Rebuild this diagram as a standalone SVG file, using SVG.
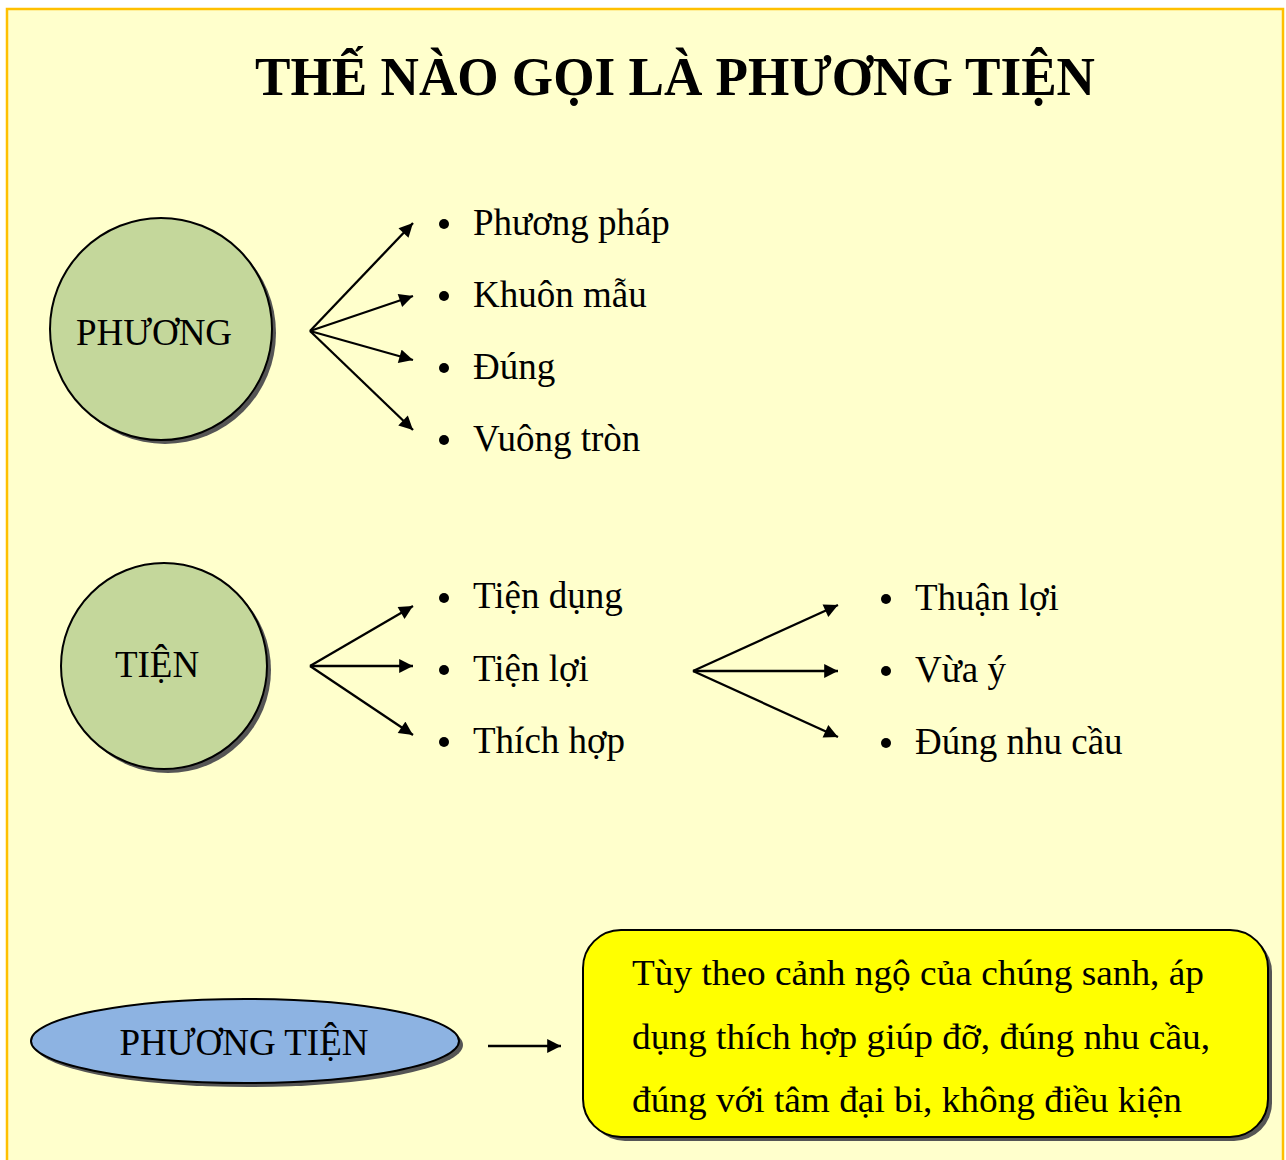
<svg xmlns="http://www.w3.org/2000/svg" width="1286" height="1160" viewBox="0 0 1286 1160">
<defs>
<marker id="ah" viewBox="0 0 10 10" refX="10" refY="5" markerWidth="6.5" markerHeight="6" orient="auto" markerUnits="strokeWidth">
<path d="M0,0 L10,5 L0,10 z" fill="#000"/>
</marker>
<style>
.t{font-family:"Liberation Serif","Times New Roman",serif;fill:#000}
.item{font-size:37px}
.lbl{font-size:37px;text-anchor:middle}
.con line{stroke:#000;stroke-width:2.3;marker-end:url(#ah)}
.shadow{fill:#555}
</style>
</defs>
<rect x="0" y="0" width="1286" height="1160" fill="#fff"/>
<rect x="7" y="9" width="1276" height="1160" fill="#FFFFCC" stroke="#FFC000" stroke-width="2.5"/>
<text class="t" x="675" y="95" font-size="54" font-weight="bold" text-anchor="middle" textLength="840" lengthAdjust="spacingAndGlyphs">THẾ NÀO GỌI LÀ PHƯƠNG TIỆN</text>

<g id="node-phuong">
<circle class="shadow" cx="165" cy="333" r="111"/>
<circle cx="161" cy="329" r="111" fill="#C4D79B" stroke="#000" stroke-width="2"/>
<text class="t lbl" x="154" y="345">PHƯƠNG</text>
</g>
<g id="node-tien">
<circle class="shadow" cx="168" cy="670" r="103"/>
<circle cx="164" cy="666" r="103" fill="#C4D79B" stroke="#000" stroke-width="2"/>
<text class="t lbl" x="157" y="677" font-size="36">TIỆN</text>
</g>
<g id="node-phuongtien">
<ellipse class="shadow" cx="249" cy="1045" rx="214" ry="42"/>
<ellipse cx="245" cy="1041" rx="214" ry="42" fill="#8DB3E2" stroke="#000" stroke-width="2"/>
<text class="t lbl" x="244" y="1055">PHƯƠNG TIỆN</text>
</g>
<g id="node-box">
<rect x="587" y="934" width="685" height="207" rx="38" class="shadow"/>
<rect x="583" y="930" width="685" height="207" rx="38" fill="#FFFF00" stroke="#000" stroke-width="2"/>
<text class="t" font-size="35" x="632" y="985" textLength="572" lengthAdjust="spacingAndGlyphs">Tùy theo cảnh ngộ của chúng sanh, áp</text>
<text class="t" font-size="35" x="632" y="1049" textLength="578" lengthAdjust="spacingAndGlyphs">dụng thích hợp giúp đỡ, đúng nhu cầu,</text>
<text class="t" font-size="35" x="632" y="1112" textLength="550" lengthAdjust="spacingAndGlyphs">đúng với tâm đại bi, không điều kiện</text>
</g>

<g id="items-phuong">
<circle cx="444" cy="224" r="5"/><text class="t item" x="473" y="235">Phương pháp</text>
<circle cx="444" cy="296" r="5"/><text class="t item" x="473" y="307">Khuôn mẫu</text>
<circle cx="444" cy="368" r="5"/><text class="t item" x="473" y="379">Đúng</text>
<circle cx="444" cy="440" r="5"/><text class="t item" x="473" y="451">Vuông tròn</text>
</g>
<g id="items-tien">
<circle cx="444" cy="598" r="5"/><text class="t item" x="473" y="608">Tiện dụng</text>
<circle cx="444" cy="670" r="5"/><text class="t item" x="473" y="681">Tiện lợi</text>
<circle cx="444" cy="742" r="5"/><text class="t item" x="473" y="753">Thích hợp</text>
</g>
<g id="items-tienloi">
<circle cx="886" cy="599" r="5"/><text class="t item" x="915" y="610">Thuận lợi</text>
<circle cx="886" cy="671" r="5"/><text class="t item" x="915" y="682">Vừa ý</text>
<circle cx="886" cy="743" r="5"/><text class="t item" x="915" y="754">Đúng nhu cầu</text>
</g>

<g id="connectors" class="con">
<line x1="310" y1="331" x2="413" y2="223"/>
<line x1="310" y1="331" x2="413" y2="296"/>
<line x1="310" y1="331" x2="413" y2="360"/>
<line x1="310" y1="331" x2="413" y2="430"/>
<line x1="310" y1="666" x2="413" y2="606"/>
<line x1="310" y1="666" x2="413" y2="666"/>
<line x1="310" y1="666" x2="413" y2="735"/>
<line x1="693" y1="671" x2="838" y2="605"/>
<line x1="693" y1="671" x2="838" y2="671"/>
<line x1="693" y1="671" x2="838" y2="737"/>
<line x1="488" y1="1046" x2="561" y2="1046"/>
</g>
</svg>
